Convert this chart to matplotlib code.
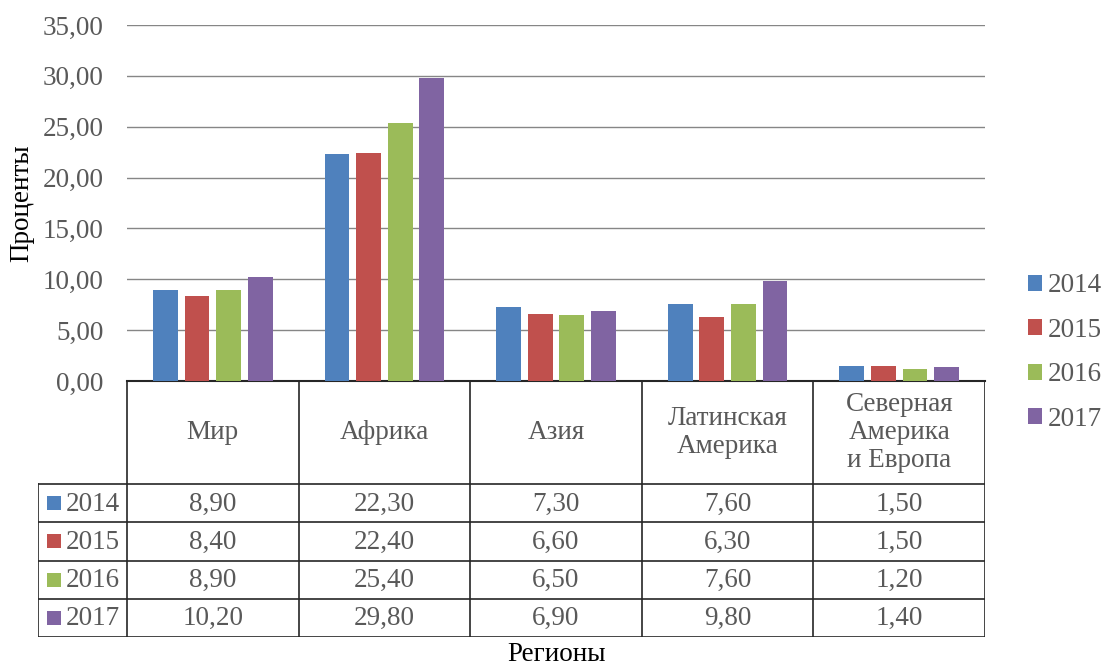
import matplotlib
matplotlib.use('Agg')
import matplotlib.pyplot as plt
import numpy as np

plt.rcParams['font.family'] = ['Liberation Serif', 'DejaVu Serif']

regions = ['Мир', 'Африка', 'Азия', 'Латинская\nАмерика', 'Северная\nАмерика\nи Европа']
years = ['2014', '2015', '2016', '2017']
v2014 = [8.90, 22.30, 7.30, 7.60, 1.50]
v2015 = [8.40, 22.40, 6.60, 6.30, 1.50]
v2016 = [8.90, 25.40, 6.50, 7.60, 1.20]
v2017 = [10.20, 29.80, 6.90, 9.80, 1.40]
colors = ['#4f81bd', '#c0504d', '#9bbb59', '#8064a2']

series = [v2014, v2015, v2016, v2017]
txt = '#595959'
fs = 19.5
W, H = 1102, 670

fig = plt.figure(figsize=(W / 100, H / 100), dpi=100)

# chart area
x0, x1, ytop, ybot = 127, 985, 25, 381
ax = fig.add_axes([x0 / W, 1 - ybot / H, (x1 - x0) / W, (ybot - ytop) / H])
n = len(regions)
x = np.arange(n)
bw = 0.145
step = 0.184
for i, (vals, c) in enumerate(zip(series, colors)):
    ax.bar(x + (i - 1.5) * step, vals, width=bw, color=c, zorder=3, label=years[i])
ax.set_xlim(-0.5, n - 0.5)
ax.set_ylim(0, 35)
ax.set_yticks(np.arange(0, 36, 5))
ax.set_yticklabels([f'{t:.2f}'.replace('.', ',') for t in np.arange(0, 36, 5)],
                   fontsize=fs, color=txt)
ax.tick_params(axis='y', length=0, pad=17)
ax.set_xticks([])
ax.grid(axis='y', color='#868686', linewidth=1, zorder=0)
for s in ['top', 'right', 'left']:
    ax.spines[s].set_visible(False)
ax.spines['bottom'].set_color('#262626')
ax.spines['bottom'].set_linewidth(1.5)
ax.set_ylabel('Проценты', fontsize=fs, color='black', va='center')
ax.yaxis.set_label_coords(-(x0 - 22) / (x1 - x0), 0.5)

ax.legend(loc='center left', bbox_to_anchor=(1.037, 0.08), frameon=False,
          fontsize=fs, labelcolor=txt, handlelength=0.52, handleheight=0.52,
          handletextpad=0.22, labelspacing=0.72, borderaxespad=0)

# data table
tl, tr, tt, tb = 38, 985, 381, 637
tax = fig.add_axes([tl / W, 1 - tb / H, (tr - tl) / W, (tb - tt) / H])
tax.set_xlim(tl, tr)
tax.set_ylim(tb, tt)
tax.axis('off')
colw = (x1 - x0) / n
header_bot = 484
rowh = (tb - header_bot) / len(years)
lc = '#262626'
lw = 1.2
# vertical lines
for k in range(n + 1):
    xx = x0 + k * colw
    tax.plot([xx, xx], [tt, tb], color=lc, lw=lw)
tax.plot([tl, tl], [header_bot, tb], color=lc, lw=lw)
# horizontal lines
tax.plot([tl, tr], [tb, tb], color=lc, lw=lw)
for r in range(len(years)):
    yy = header_bot + r * rowh
    tax.plot([tl, tr], [yy, yy], color=lc, lw=lw)
# header text
for k, name in enumerate(regions):
    tax.text(x0 + (k + 0.5) * colw, (tt + header_bot) / 2, name, ha='center',
             va='center', fontsize=fs, color=txt, linespacing=1.15)
# rows
for r, (yr, vals, c) in enumerate(zip(years, series, colors)):
    yc = header_bot + (r + 0.5) * rowh
    tax.add_patch(plt.Rectangle((47, yc - 7), 14, 14, color=c, lw=0))
    tax.text(66, yc + 1, yr, ha='left', va='center', fontsize=fs, color=txt)
    for k, v in enumerate(vals):
        tax.text(x0 + (k + 0.5) * colw, yc + 1, f'{v:.2f}'.replace('.', ','),
                 ha='center', va='center', fontsize=fs, color=txt)

fig.text(557 / W, 3 / H, 'Регионы', ha='center', va='bottom', fontsize=fs, color='black')

fig.savefig('out.png', dpi=100)
